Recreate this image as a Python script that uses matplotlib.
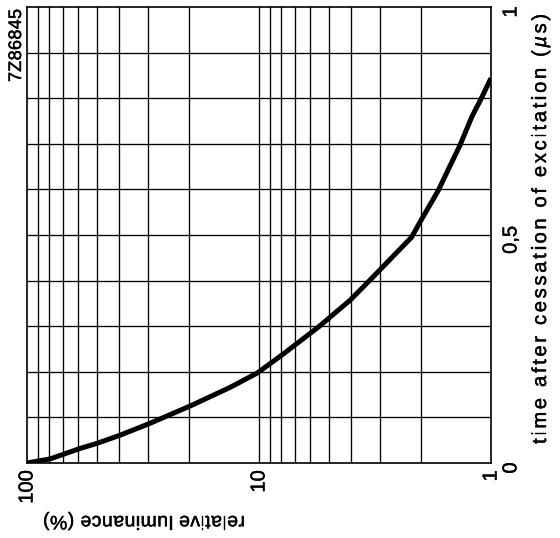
import matplotlib
matplotlib.use("Agg")
import matplotlib.pyplot as plt
import matplotlib.patheffects as pe
from matplotlib.ticker import FixedLocator, NullLocator
from matplotlib.transforms import ScaledTranslation, IdentityTransform
from matplotlib.font_manager import FontProperties

plt.rcParams['font.family'] = ['Liberation Sans', 'DejaVu Sans']

# decay curve: time after excitation (µs) vs relative luminance (%)
time_us = [0.0, 0.009, 0.032, 0.043, 0.061, 0.087, 0.125, 0.166, 0.197, 0.239,
           0.298, 0.357, 0.394, 0.495, 0.529, 0.597, 0.643, 0.697, 0.759,
           0.800, 0.844]
luminance_pct = [100, 79.5, 59, 50, 39.7, 29.5, 19.8, 13.3, 10.2, 7.86,
                 5.55, 4.05, 3.43, 2.2, 2.02, 1.69, 1.53, 1.36, 1.21,
                 1.10, 1.0]

lum_ticks = [100, 10, 1]
lum_tick_labels = ["100", "10", "1"]
time_ticks = [0, 0.5, 1]
time_tick_labels = ["0", "0,5", "1"]
lum_grid = [90, 80, 70, 60, 50, 40, 30, 20, 10, 9, 8, 7, 6, 5, 4, 3, 2]
time_grid = [0.1, 0.2, 0.3, 0.4, 0.5, 0.6, 0.7, 0.8, 0.9]

W, H = 560, 538
fig = plt.figure(figsize=(W / 100, H / 100), dpi=100)
ax = fig.add_axes([27 / W, 1 - 463 / H, 464 / W, 456 / H])

ax.set_xscale('log')
ax.set_xlim(100, 1)
ax.set_ylim(0, 1)

for v in lum_grid:
    ax.axvline(v, color='black', lw=0.95, zorder=1)
for v in time_grid:
    ax.axhline(v, color='black', lw=0.95, zorder=1)

ax.plot(luminance_pct, time_us, color='black', lw=3.6, solid_capstyle='butt',
        solid_joinstyle='round', zorder=3)

for s in ax.spines.values():
    s.set_linewidth(1.2)

ink = [pe.withStroke(linewidth=0.3, foreground='black')]

ax.xaxis.set_major_locator(FixedLocator(lum_ticks))
ax.xaxis.set_minor_locator(NullLocator())
ax.set_xticklabels(lum_tick_labels, rotation=90, va='top', ha='center')
ax.yaxis.tick_right()
ax.yaxis.set_major_locator(FixedLocator(time_ticks))
ax.set_yticklabels(time_tick_labels, rotation=90, va='center', ha='left')
ax.tick_params(axis='both', length=0, labelsize=14.5)
ax.tick_params(axis='x', pad=5.3)
ax.tick_params(axis='y', pad=7.5)
shift = ScaledTranslation(0, -5 / 100, fig.dpi_scale_trans)
for lab in ax.get_yticklabels():
    lab.set_transform(lab.get_transform() + shift)
for lab in ax.get_yticklabels() + ax.get_xticklabels():
    lab.set_path_effects(ink)

renderer = fig.canvas.get_renderer()


def text_width(s, prop):
    w, _, _ = renderer.get_text_width_height_descent(s, prop, ismath=False)
    return w


def spaced_text(s, x0, y0, rotation, length, size, italic_chars=""):
    """Draw s with even letter spacing so that it spans `length` pixels.
    (x0, y0) is the baseline start in pixels from the top-left corner."""
    prop = FontProperties(family='Liberation Sans', size=size)
    offsets = [text_width(s[:i] + "|", prop) - text_width("|", prop) if i else 0.0
               for i in range(len(s))]
    natural = text_width(s, prop)
    extra = (length - natural) / (len(s) - 1)
    for i, ch in enumerate(s):
        d = offsets[i] + i * extra
        if rotation == 90:
            x, y = x0, H - y0 + d
        else:  # 180
            x, y = x0 - d, H - y0
        fig.text(x, y, ch, transform=IdentityTransform(), rotation=rotation,
                 rotation_mode='anchor', ha='left', va='baseline',
                 fontsize=size, family='Liberation Sans', path_effects=ink,
                 fontstyle='italic' if ch in italic_chars else 'normal')


spaced_text("time after cessation of excitation (µs)", 546, 444, 90, 430, 14.5,
            italic_chars="µ")
spaced_text("relative luminance (%)", 245, 516, 180, 202, 14)
spaced_text("7Z86845", 21, 82, 90, 73, 13)

fig.savefig("out.png", dpi=100)
